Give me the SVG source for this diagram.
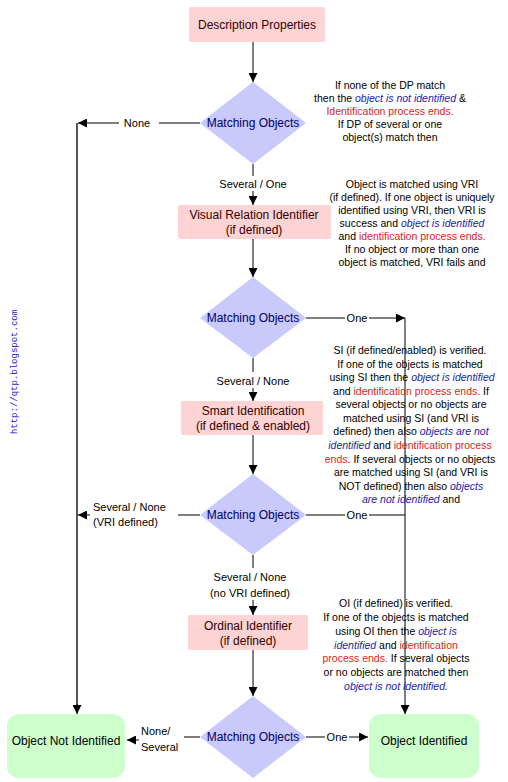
<svg xmlns="http://www.w3.org/2000/svg" width="508" height="782" viewBox="0 0 508 782">
<style>
text{font-family:"Liberation Sans",Arial,sans-serif}
.box{fill:#fdd3d3;stroke:none}
.bt{font-size:12px;fill:#330000;text-anchor:middle}
.dia{fill:#c9c9fb;stroke:none}
.dt{font-size:12px;fill:#000066;text-anchor:middle}
.end{fill:#ccffcc;stroke:none}
.et{font-size:12px;fill:#000;text-anchor:middle}
.lbl{font-size:11px;fill:#000}
.note{font-size:10.5px;fill:#000;text-anchor:middle}
.b{fill:#2222aa;font-style:italic}
.r{fill:#dd2222}
.ln{stroke:#000;stroke-width:1;fill:none}
.gl{stroke:#555;stroke-width:2;fill:none}
</style>
<defs>
<marker id="ah" viewBox="0 0 10 10" refX="10" refY="5" markerWidth="9" markerHeight="9" markerUnits="userSpaceOnUse" orient="auto">
<path d="M0,0 L10,5 L0,10 z" fill="#000"/>
</marker>
</defs>

<g id="connectors">
<line class="ln" x1="253" y1="42" x2="253" y2="82" marker-end="url(#ah)"/>
<line class="ln" x1="200" y1="123" x2="159" y2="123"/>
<line class="ln" x1="119" y1="123" x2="78" y2="123" marker-end="url(#ah)"/>
<line class="gl" x1="77" y1="123" x2="77" y2="706"/>
<line class="ln" x1="77" y1="704" x2="77" y2="714" marker-end="url(#ah)"/>
<line class="ln" x1="253" y1="164" x2="253" y2="176"/>
<line class="ln" x1="253" y1="191" x2="253" y2="205" marker-end="url(#ah)"/>
<line class="ln" x1="253" y1="239" x2="253" y2="277" marker-end="url(#ah)"/>
<line class="ln" x1="306" y1="318" x2="345" y2="318"/>
<line class="ln" x1="369" y1="318" x2="405" y2="318" marker-end="url(#ah)"/>
<line class="ln" x1="405" y1="318" x2="405" y2="714" marker-end="url(#ah)"/>
<line class="ln" x1="253" y1="358" x2="253" y2="372"/>
<line class="ln" x1="253" y1="388" x2="253" y2="401" marker-end="url(#ah)"/>
<line class="ln" x1="253" y1="435" x2="253" y2="474" marker-end="url(#ah)"/>
<line class="ln" x1="200" y1="515" x2="178" y2="515"/>
<line class="ln" x1="90" y1="515" x2="78" y2="515" marker-end="url(#ah)"/>
<line class="ln" x1="306" y1="515" x2="345" y2="515"/>
<line class="ln" x1="369" y1="515" x2="405" y2="515"/>
<line class="ln" x1="253" y1="555" x2="253" y2="568"/>
<line class="ln" x1="253" y1="600" x2="253" y2="615" marker-end="url(#ah)"/>
<line class="ln" x1="253" y1="650" x2="253" y2="696" marker-end="url(#ah)"/>
<line class="ln" x1="200" y1="737" x2="184" y2="737"/>
<line class="ln" x1="139" y1="740" x2="127" y2="740" marker-end="url(#ah)"/>
<line class="ln" x1="306" y1="737" x2="325" y2="737"/>
<line class="ln" x1="349" y1="737" x2="368" y2="737" marker-end="url(#ah)"/>
<text class="lbl" x="137" y="127" text-anchor="middle">None</text>
<text class="lbl" x="253" y="188" text-anchor="middle">Several / One</text>
<text class="lbl" x="357" y="322" text-anchor="middle">One</text>
<text class="lbl" x="253" y="385" text-anchor="middle">Several / None</text>
<text class="lbl" x="93" y="511">Several / None</text>
<text class="lbl" x="93" y="526">(VRI defined)</text>
<text class="lbl" x="357" y="519" text-anchor="middle">One</text>
<text class="lbl" x="250" y="581" text-anchor="middle">Several / None</text>
<text class="lbl" x="250" y="597" text-anchor="middle">(no VRI defined)</text>
<text class="lbl" x="141" y="735">None/</text>
<text class="lbl" x="141" y="751">Several</text>
<text class="lbl" x="337" y="741" text-anchor="middle">One</text>
</g>

<g id="n-dp">
<rect class="box" x="189" y="7" width="136" height="35" rx="2"/>
<text class="bt" x="257" y="29">Description Properties</text>
</g>
<g id="n-m1">
<polygon class="dia" points="253,82 306,123 253,164 200,123"/>
<text class="dt" x="253" y="127">Matching Objects</text>
</g>
<g id="n-vri">
<rect class="box" x="178" y="205" width="153" height="34" rx="2"/>
<text class="bt" x="254" y="219">Visual Relation Identifier</text>
<text class="bt" x="254" y="234">(if defined)</text>
</g>
<g id="n-m2">
<polygon class="dia" points="253,277 306,318 253,358 200,318"/>
<text class="dt" x="253" y="322">Matching Objects</text>
</g>
<g id="n-si">
<rect class="box" x="181" y="401" width="142" height="34" rx="2"/>
<text class="bt" x="253" y="415">Smart Identification</text>
<text class="bt" x="253" y="430">(if defined &amp; enabled)</text>
</g>
<g id="n-m3">
<polygon class="dia" points="253,474 306,515 253,555 200,515"/>
<text class="dt" x="253" y="519">Matching Objects</text>
</g>
<g id="n-oi">
<rect class="box" x="188" y="615" width="120" height="35" rx="2"/>
<text class="bt" x="248" y="630">Ordinal Identifier</text>
<text class="bt" x="248" y="645">(if defined)</text>
</g>
<g id="n-m4">
<polygon class="dia" points="253,696 306,737 253,778 200,737"/>
<text class="dt" x="253" y="741">Matching Objects</text>
</g>
<g id="n-notid">
<rect class="end" x="7" y="714" width="118" height="64" rx="12"/>
<text class="et" x="66" y="745">Object Not Identified</text>
</g>
<g id="n-id">
<rect class="end" x="369" y="714" width="110" height="64" rx="12"/>
<text class="et" x="424" y="745">Object Identified</text>
</g>

<g id="notes">
<text class="note" x="390" y="89">If none of the DP match</text>
<text class="note" x="390" y="102">then the <tspan class="b">object is not identified</tspan> &amp;</text>
<text class="note r" x="390" y="115">Identification process ends.</text>
<text class="note" x="390" y="128">If DP of several or one</text>
<text class="note" x="390" y="141">object(s) match then</text>

<text class="note" x="412" y="188">Object is matched using VRI</text>
<text class="note" x="412" y="201">(if defined). If one object is uniquely</text>
<text class="note" x="412" y="214">identified using VRI, then VRI is</text>
<text class="note" x="412" y="227">success and  <tspan class="b">object is identified</tspan></text>
<text class="note" x="412" y="240">and  <tspan class="r">identification process ends.</tspan></text>
<text class="note" x="412" y="253">If no object or more than one</text>
<text class="note" x="412" y="266">object is matched, VRI fails and</text>

<text class="note" x="410" y="354">SI (if defined/enabled) is verified.</text>
<text class="note" x="410" y="368">If one of the objects is matched</text>
<text class="note" x="412" y="381">using SI then the <tspan class="b">object is identified</tspan></text>
<text class="note" x="411" y="395">and <tspan class="r">identification process ends.</tspan>  If</text>
<text class="note" x="411" y="408">several objects or no objects are</text>
<text class="note" x="411" y="422">matched using SI (and VRI is</text>
<text class="note" x="411" y="435">defined) then also  <tspan class="b">objects are not</tspan></text>
<text class="note" x="410" y="449"><tspan class="b">identified</tspan>  and <tspan class="r">identification process</tspan></text>
<text class="note" x="410" y="463"><tspan class="r">ends</tspan>. If several objects or no objects</text>
<text class="note" x="411" y="476">are matched using SI (and VRI is</text>
<text class="note" x="411" y="490">NOT defined) then also  <tspan class="b">objects</tspan></text>
<text class="note" x="411" y="503"><tspan class="b">are not identified</tspan>  and</text>

<text class="note" x="396" y="607">OI (if defined) is verified.</text>
<text class="note" x="396" y="621">If one of the objects is matched</text>
<text class="note" x="396" y="635">using OI then the  <tspan class="b">object is</tspan></text>
<text class="note" x="396" y="649"><tspan class="b">identified</tspan>  and <tspan class="r">identification</tspan></text>
<text class="note" x="396" y="662"><tspan class="r">process ends.</tspan> If several objects</text>
<text class="note" x="396" y="676">or no objects are matched then</text>
<text class="note" x="396" y="690"><tspan class="b">object is not identified.</tspan></text>
</g>

<text x="17" y="372" transform="rotate(-90 17 372)" text-anchor="middle" style="font-family:'Liberation Mono','Courier New',monospace;font-size:9px;fill:#2222dd">http://qtp.blogspot.com</text>
</svg>
